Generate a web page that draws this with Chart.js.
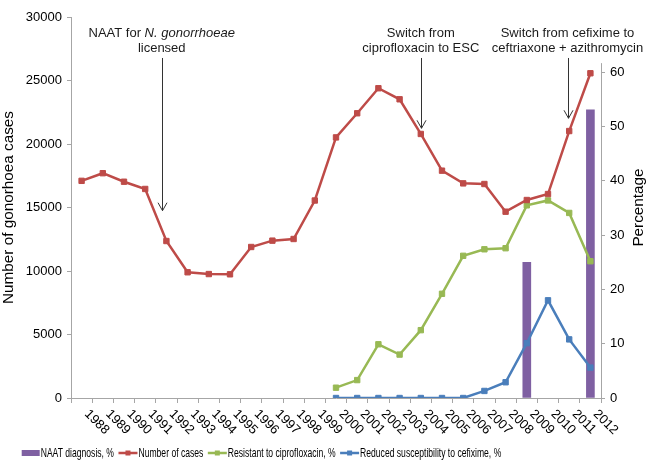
<!DOCTYPE html>
<html><head><meta charset="utf-8">
<script src="https://cdn.jsdelivr.net/npm/chart.js@4/dist/chart.umd.min.js"></script>
<style>html,body{margin:0;padding:0;background:#fff}#wrap{width:651px;height:467px;position:relative}</style>
</head><body><div id="wrap"><canvas id="c" width="651" height="467"></canvas></div>
<script>
const years = ['1988','1989','1990','1991','1992','1993','1994','1995','1996','1997','1998','1999','2000','2001','2002','2003','2004','2005','2006','2007','2008','2009','2010','2011','2012'];
const cases = [17100,17700,17030,16460,12360,9900,9760,9740,11890,12390,12520,15550,20520,22420,24390,23520,20790,17900,16900,16850,14670,15590,16060,21020,25570];
const naat = [null,null,null,null,null,null,null,null,null,null,null,null,null,null,null,null,null,null,null,null,null,25.0,null,null,53.1];
const cipro = [null,null,null,null,null,null,null,null,null,null,null,null,1.9,3.3,9.9,8.0,12.5,19.2,26.2,27.4,27.6,35.5,36.4,34.1,25.2];
const cefix = [null,null,null,null,null,null,null,null,null,null,null,null,0,0,0,0,0,0,0,1.3,2.9,10.1,18.0,10.8,5.6];
const leftTicks = [0,5000,10000,15000,20000,25000,30000];
const rightTicks = [0,10,20,30,40,50,60];
const legendLabels = ['NAAT diagnosis, %','Number of cases','Resistant to ciprofloxacin, %','Reduced susceptibility to cefixime, %'];
const annotations = [
  {pos:3.78, lines:[[['NAAT for ',false],['N. gonorrhoeae',true]],[['licensed',false]]], tip:14748},
  {pos:16.0, lines:[[['Switch from',false]],[['ciprofloxacin to ESC',false]]], tip:21236},
  {pos:22.92, lines:[[['Switch from cefixime to',false]],[['ceftriaxone + azithromycin',false]]], tip:22024}
];

const RED='#BE4B48', GREEN='#98B954', BLUE='#4A7EBB', PURPLE='#7F60A2', AXIS='#A6A6A6';
const FONT='"Liberation Sans", Arial, sans-serif';

const overlay = {
  id:'overlay',
  afterDraw(chart){
    const ctx = chart.ctx, xs = chart.scales.x, ys = chart.scales.y, y1 = chart.scales.y1;
    ctx.save();
    ctx.strokeStyle = AXIS; ctx.lineWidth = 1;
    const rx = Math.round(y1.left)+0.5;
    ctx.beginPath(); ctx.moveTo(rx, y1.getPixelForValue(61.7)); ctx.lineTo(rx, y1.bottom); ctx.stroke();
    ctx.save();
    ctx.translate(y1.right-12, (y1.top+y1.bottom)/2);
    ctx.rotate(-Math.PI/2);
    ctx.font = '15.3px '+FONT; ctx.fillStyle='#000'; ctx.textAlign='center'; ctx.textBaseline='middle';
    ctx.fillText('Percentage',0,0);
    ctx.restore();
    ctx.font = '13px '+FONT; ctx.fillStyle='#000'; ctx.textAlign='left'; ctx.textBaseline='middle';
    years.forEach((yr,i)=>{
      const px = xs.getPixelForValue(i);
      ctx.save(); ctx.translate(px+5, xs.top+14); ctx.rotate(Math.PI/4); ctx.fillText(yr,0,0); ctx.restore();
    });
    ctx.fillStyle='#1a1a1a'; ctx.textBaseline='alphabetic'; ctx.textAlign='left';
    annotations.forEach(a=>{
      const cx = xs.getPixelForValue(a.pos);
      a.lines.forEach((ln,li)=>{
        let w=0;
        ln.forEach(([t,it])=>{ctx.font=(it?'italic ':'')+'13px '+FONT; w+=ctx.measureText(t).width;});
        let x = cx - w/2;
        const by = ys.getPixelForValue(28425) + li*15;
        ln.forEach(([t,it])=>{ctx.font=(it?'italic ':'')+'13px '+FONT; ctx.fillText(t,x,by); x+=ctx.measureText(t).width;});
      });
      const ax = Math.round(cx)+0.5;
      const top = ys.getPixelForValue(26772), tip = ys.getPixelForValue(a.tip);
      ctx.strokeStyle='#333'; ctx.lineWidth=1;
      ctx.beginPath(); ctx.moveTo(ax, top); ctx.lineTo(ax, tip); ctx.stroke();
      ctx.beginPath(); ctx.moveTo(ax-4.5, tip-8); ctx.lineTo(ax, tip); ctx.lineTo(ax+4.5, tip-8); ctx.stroke();
    });
    const ly = 453;
    const ds = chart.data.datasets;
    let x = 21.7;
    const sx = 0.66;
    ctx.textBaseline='middle'; ctx.font='13px '+FONT;
    [0,1,2,3].forEach((k,i)=>{
      const d = ds[k];
      if (k===0){
        ctx.fillStyle = d.backgroundColor; ctx.fillRect(x, ly-3, 18, 6); x += 18;
      } else {
        ctx.strokeStyle = d.borderColor; ctx.lineWidth = 2.5;
        ctx.beginPath(); ctx.moveTo(x, ly); ctx.lineTo(x+19, ly); ctx.stroke();
        ctx.fillStyle = d.borderColor; ctx.fillRect(x+9.5-2.5, ly-2.5, 5, 5);
        x += 19;
      }
      x += 1;
      ctx.fillStyle = '#000';
      ctx.save(); ctx.translate(x, ly); ctx.scale(sx,1); ctx.fillText(legendLabels[i],0,0); ctx.restore();
      x += ctx.measureText(legendLabels[i]).width*sx + 4.5;
    });
    ctx.restore();
  }
};

new Chart(document.getElementById('c'), {
  type:'bar',
  data:{
    labels: years,
    datasets:[
      {type:'bar', label:legendLabels[0], data:naat, yAxisID:'y1', backgroundColor:PURPLE, borderWidth:0, barThickness:8, order:5},
      {type:'line', label:legendLabels[1], data:cases, yAxisID:'y', borderColor:RED, backgroundColor:RED, borderWidth:2.5, pointStyle:'rect', pointRadius:3.8, pointBorderWidth:1, pointBackgroundColor:RED, pointBorderColor:RED, tension:0, order:1},
      {type:'line', label:legendLabels[2], data:cipro, yAxisID:'y1', borderColor:GREEN, backgroundColor:GREEN, borderWidth:2.5, pointStyle:'rect', pointRadius:3.8, pointBorderWidth:1, pointBackgroundColor:GREEN, pointBorderColor:GREEN, tension:0, order:2},
      {type:'line', label:legendLabels[3], data:cefix, yAxisID:'y1', borderColor:BLUE, backgroundColor:BLUE, borderWidth:2.5, pointStyle:'rect', pointRadius:3.8, pointBorderWidth:1, pointBackgroundColor:BLUE, pointBorderColor:BLUE, tension:0, order:3}
    ]
  },
  options:{
    responsive:false, animation:false, devicePixelRatio:1,
    layout:{padding:{top:17, left:0, right:0, bottom:0}},
    plugins:{legend:{display:false}, tooltip:{enabled:false}},
    scales:{
      x:{
        offset:true,
        grid:{offset:true, drawOnChartArea:false, tickLength:5, color:AXIS},
        border:{color:AXIS},
        ticks:{display:false},
        afterFit(s){ s.height = 69; }
      },
      y:{
        position:'left', min:0, max:30000,
        afterBuildTicks(s){ s.ticks = leftTicks.map(v=>({value:v})); },
        ticks:{color:'#000', font:{family:FONT, size:13}, padding:5, callback:v=>String(v)},
        grid:{drawOnChartArea:false, tickLength:4, color:AXIS},
        border:{color:AXIS},
        title:{display:true, text:'Number of gonorhoea cases', color:'#000', font:{family:FONT, size:15.3}, padding:{top:0,bottom:0}},
        afterFit(s){ s.width = 71; }
      },
      y1:{
        position:'right', min:0, max:70.2,
        afterBuildTicks(s){ s.ticks = rightTicks.map(v=>({value:v})); },
        ticks:{color:'#000', font:{family:FONT, size:13}, padding:5, callback:v=>String(v)},
        grid:{drawOnChartArea:false, tickLength:4, color:AXIS},
        border:{display:false},
        afterFit(s){ s.width = 50; }
      }
    }
  },
  plugins:[overlay]
});
</script>
</body></html>
